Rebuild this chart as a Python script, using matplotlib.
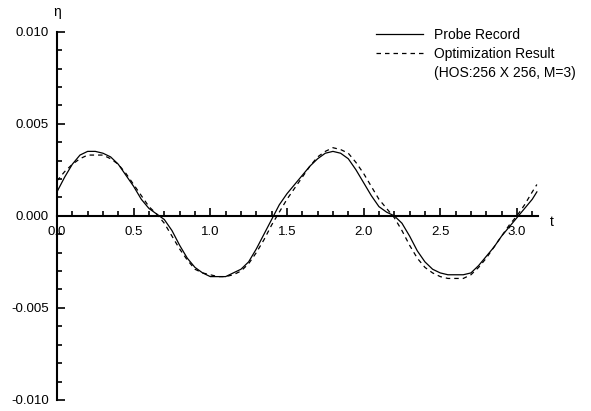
import matplotlib
matplotlib.use("Agg")
import matplotlib.pyplot as plt
from matplotlib.lines import Line2D
from matplotlib.ticker import MultipleLocator, FormatStrFormatter

plt.rcParams['font.family'] = ['Liberation Sans', 'DejaVu Sans']

# time axis (s)
t = [0.00, 0.05, 0.10, 0.15, 0.20, 0.25, 0.30, 0.35, 0.40, 0.45,
     0.50, 0.55, 0.60, 0.65, 0.70, 0.75, 0.80, 0.85, 0.90, 0.95,
     1.00, 1.05, 1.10, 1.15, 1.20, 1.25, 1.30, 1.35, 1.40, 1.45,
     1.50, 1.55, 1.60, 1.65, 1.70, 1.75, 1.80, 1.85, 1.90, 1.95,
     2.00, 2.05, 2.10, 2.15, 2.20, 2.25, 2.30, 2.35, 2.40, 2.45,
     2.50, 2.55, 2.60, 2.65, 2.70, 2.75, 2.80, 2.85, 2.90, 2.95,
     3.00, 3.05, 3.10, 3.13]

probe = [0.0013, 0.0021, 0.0028, 0.0033, 0.0035, 0.0035, 0.0034, 0.0032, 0.0028, 0.0022,
         0.0016, 0.0009, 0.0004, 0.0001, -0.0002, -0.0008, -0.0016, -0.0023, -0.0028, -0.0031,
         -0.0033, -0.0033, -0.0033, -0.0031, -0.0029, -0.0025, -0.0018, -0.0010, -0.0002, 0.0006,
         0.0012, 0.0017, 0.0022, 0.0027, 0.0031, 0.0034, 0.0035, 0.0034, 0.0031, 0.0025,
         0.0018, 0.0011, 0.0005, 0.0002, 0.0000, -0.0004, -0.0011, -0.0019, -0.0025, -0.0029,
         -0.0031, -0.0032, -0.0032, -0.0032, -0.0031, -0.0027, -0.0022, -0.0017, -0.0011, -0.0006,
         -0.0001, 0.0004, 0.0009, 0.0013]

optim = [0.0019, 0.0024, 0.0028, 0.0031, 0.0033, 0.0033, 0.0033, 0.0031, 0.0028, 0.0023,
         0.0017, 0.0011, 0.0005, 0.0001, -0.0004, -0.0011, -0.0018, -0.0024, -0.0029, -0.0031,
         -0.0032, -0.0033, -0.0033, -0.0032, -0.0030, -0.0026, -0.0020, -0.0013, -0.0005, 0.0002,
         0.0009, 0.0015, 0.0021, 0.0027, 0.0032, 0.0035, 0.0037, 0.0036, 0.0034, 0.0029,
         0.0023, 0.0016, 0.0009, 0.0004, -0.0001, -0.0008, -0.0016, -0.0023, -0.0028, -0.0031,
         -0.0033, -0.0034, -0.0034, -0.0034, -0.0032, -0.0028, -0.0023, -0.0017, -0.0011, -0.0005,
         0.0000, 0.0006, 0.0013, 0.0017]

fig = plt.figure(figsize=(5.91, 4.11), dpi=100)
ax = fig.add_axes([0.0964, 0.0268, 0.8146, 0.8961])

ax.plot(t, probe, color='black', lw=0.9, label='Probe Record')
ax.plot(t, optim, color='black', lw=0.9, dashes=(3.6, 3.2), label='Optimization Result')

ax.set_xlim(0, 3.14)
ax.set_ylim(-0.010, 0.010)

ax.spines['top'].set_visible(False)
ax.spines['right'].set_visible(False)
ax.spines['bottom'].set_position(('data', 0))
ax.spines['left'].set_linewidth(1.5)
ax.spines['bottom'].set_linewidth(1.5)

ax.xaxis.set_major_locator(MultipleLocator(0.5))
ax.xaxis.set_minor_locator(MultipleLocator(0.1))
ax.yaxis.set_major_locator(MultipleLocator(0.005))
ax.yaxis.set_minor_locator(MultipleLocator(0.001))
ax.xaxis.set_major_formatter(FormatStrFormatter('%.1f'))
ax.yaxis.set_major_formatter(FormatStrFormatter('%.3f'))

ax.tick_params(which='both', direction='in', width=1.2, labelsize=9.5)
ax.tick_params(which='major', length=6)
ax.tick_params(which='minor', length=3.5)
ax.tick_params(axis='x', which='major', pad=7)
ax.tick_params(axis='y', which='major', pad=6)

ax.text(0, 1.054, 'η', transform=ax.transAxes, ha='center', va='center', fontsize=10)
ax.text(1.028, 0.483, 't', transform=ax.transAxes, ha='center', va='center', fontsize=10)

handles, labels = ax.get_legend_handles_labels()
handles.append(Line2D([], [], color='none'))
labels.append('(HOS:256 X 256, M=3)')
ax.legend(handles, labels, frameon=False, fontsize=10,
          loc='upper left', bbox_to_anchor=(0.636, 1.043),
          handlelength=3.4, handletextpad=0.8, labelspacing=0.35)

fig.savefig('out.png', dpi=100)
